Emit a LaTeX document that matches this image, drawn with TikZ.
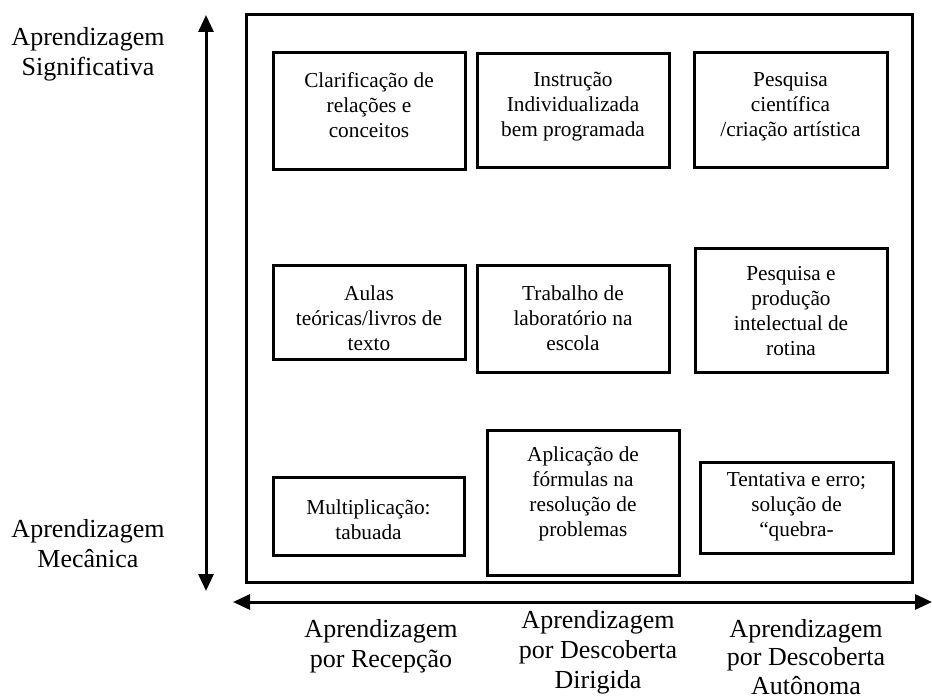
\documentclass[tikz,border=0pt]{standalone}
\usepackage{fontspec}
\setmainfont{Liberation Serif}
\usetikzlibrary{arrows.meta}
\begin{document}
\begin{tikzpicture}[x=1pt,y=-1pt,
  box/.style={draw, line width=3pt, inner sep=0pt, outer sep=0pt},
  btext/.style={font=\fontsize{21.3}{25}\selectfont, align=center, anchor=north, inner sep=0pt},
  side/.style={font=\fontsize{26}{30}\selectfont, align=center, anchor=north, inner sep=0pt},
  axis/.style={line width=3pt, {Triangle[length=17pt,width=15pt]}-{Triangle[length=17pt,width=15pt]}}]
\useasboundingbox (0,0) rectangle (932,698);
% outer frame
\node[box, minimum width=666pt, minimum height=567pt] (frame) at (579,298.5) {};
% boxes
\node[box, minimum width=192pt, minimum height=117pt] (b1) at (369,111.5) {};
\node[box, minimum width=192pt, minimum height=114pt] (b2) at (573,111) {};
\node[box, minimum width=193pt, minimum height=115pt] (b3) at (790.5,110.5) {};
\node[box, minimum width=192pt, minimum height=94pt] (b4) at (369,312) {};
\node[box, minimum width=192pt, minimum height=107pt] (b5) at (573,318.5) {};
\node[box, minimum width=192pt, minimum height=124pt] (b6) at (791,310) {};
\node[box, minimum width=191pt, minimum height=78pt] (b7) at (368.5,516) {};
\node[box, minimum width=192pt, minimum height=145pt] (b8) at (583,502.5) {};
\node[box, minimum width=193pt, minimum height=91pt] (b9) at (796.5,507.5) {};
% box texts
\node[btext] (t1) at (369,72) {Clarificação de\\relações e\\conceitos};
\node[btext] (t2) at (573,72) {Instrução\\Individualizada\\bem programada};
\node[btext] (t3) at (790.5,72) {Pesquisa\\científica\\/criação artística};
\node[btext] (t4) at (369,286) {Aulas\\teóricas/livros de\\texto};
\node[btext] (t5) at (573,286) {Trabalho de\\laboratório na\\escola};
\node[btext] (t6) at (791,266) {Pesquisa e\\produção\\intelectual de\\rotina};
\node[btext] (t7) at (368.5,500) {Multiplicação:\\tabuada};
\node[btext] (t8) at (583,447) {Aplicação de\\fórmulas na\\resolução de\\problemas};
\node[btext] (t9) at (796.5,472) {Tentativa e erro;\\solução de\\“quebra-};
% side labels
\node[side] (ls) at (88,27) {Aprendizagem\\Significativa};
\node[side] (lm) at (88,519) {Aprendizagem\\Mecânica};
\node[side] (lr) at (381,619) {Aprendizagem\\por Recepção};
\node[side] (ld) at (598,610) {Aprendizagem\\por Descoberta\\Dirigida};
\node[side, font=\fontsize{26}{28.5}\selectfont] (la) at (806,619) {Aprendizagem\\por Descoberta\\Autônoma};
% axes
\coordinate (vt) at (206,15);
\coordinate (vb) at (206,591);
\coordinate (hl) at (233,602);
\coordinate (hr) at (932,602);
\draw[axis] (vb) -- (vt);
\draw[axis] (hl) -- (hr);
\end{tikzpicture}
\end{document}
